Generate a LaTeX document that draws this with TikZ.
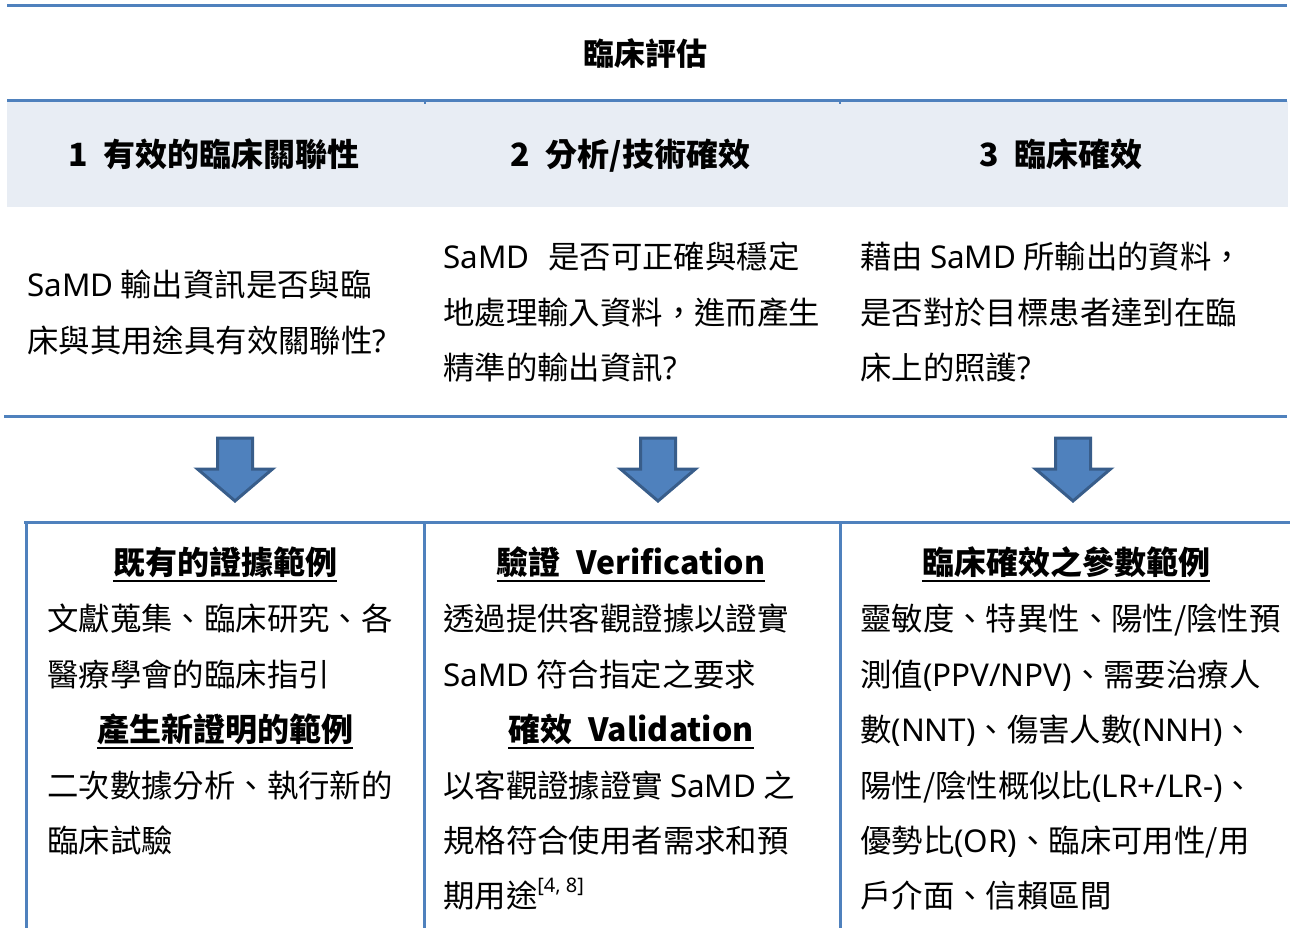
\documentclass[tikz,border=0pt]{standalone}
\usepackage{fontspec}
\setmainfont{Noto Sans CJK TC}
\newfontfamily\lat{Noto Sans}
\definecolor{lineblue}{HTML}{4F81BD}
\definecolor{bandfill}{HTML}{E8EDF4}
\definecolor{arrowborder}{HTML}{385D8A}
\newcommand{\lt}[1]{{\lat #1}}
\tikzset{
  rule/.style={draw=lineblue,line width=3pt},
  title/.style={inner sep=0pt,anchor=base,font=\fontsize{31}{36}\selectfont\bfseries},
  colhead/.style={inner sep=0pt,anchor=base west,font=\fontsize{32}{36}\selectfont\bfseries},
  bodytext/.style={inner sep=0pt,anchor=base west,font=\fontsize{31.4}{36}\selectfont},
  subhead/.style={inner sep=0pt,anchor=base,font=\fontsize{32}{36}\selectfont\bfseries},
  arrowstyle/.style={fill=lineblue,draw=arrowborder,line width=3pt,line join=miter},
  pics/downarrow/.style={code={
    \draw[arrowstyle] (-17.5,0) -- (17.5,0) -- (17.5,31) -- (37.5,31) -- (0,63) -- (-37.5,31) -- (-17.5,31) -- cycle;}}
}
\newcommand{\ul}[1]{\draw[line width=2pt] ([yshift=-7pt]#1.base west) -- ([yshift=-7pt]#1.base east);}
\begin{document}
\begin{tikzpicture}[x=1pt,y=-1pt]
\useasboundingbox (0,0) rectangle (1290,928);
% band
\fill[bandfill] (7,101) rectangle (1288,207);
% horizontal rules
\coordinate (t1) at (7,6);   \coordinate (t2) at (1287,6);
\coordinate (m1) at (7,101); \coordinate (m2) at (1287,101);
\coordinate (b1) at (4,416); \coordinate (b2) at (1287,416);
\coordinate (c1) at (24,522); \coordinate (c2) at (1290,522);
\draw[rule] (t1) -- (t2);
\draw[rule] (m1) -- (m2);
\draw[rule] (b1) -- (b2);
\draw[rule] (c1) -- (c2);
% small ticks
\draw[lineblue,line width=2pt] (425,101) -- (425,104);
\draw[lineblue,line width=2pt] (840,101) -- (840,104);
% vertical box lines
\coordinate (v1a) at (26,522);  \coordinate (v1b) at (26,930);
\coordinate (v2a) at (424,522); \coordinate (v2b) at (424,930);
\coordinate (v3a) at (840,522); \coordinate (v3b) at (840,930);
\draw[rule] (v1a) -- (v1b);
\draw[rule] (v2a) -- (v2b);
\draw[rule] (v3a) -- (v3b);
% title
\node[title] (ttl) at (645,66) {臨床評估};
% column headers
\node[colhead] (h1) at (68,167) {1\hspace{0.5em}有效的臨床關聯性};
\node[colhead] (h2) at (510,167) {2\hspace{0.5em}分析/技術確效};
\node[colhead] (h3) at (979,167) {3\hspace{0.5em}臨床確效};
% upper body text
\node[bodytext] (a1) at (27,296) {\lt{SaMD} 輸出資訊是否與臨};
\node[bodytext] (a2) at (27,352) {床與其用途具有效關聯性\lt{?}};
\node[bodytext] (b1t) at (443,268) {\lt{SaMD}\hspace{0.6em}是否可正確與穩定};
\node[bodytext] (b2t) at (443,324) {地處理輸入資料，進而產生};
\node[bodytext] (b3t) at (443,379) {精準的輸出資訊\lt{?}};
\node[bodytext] (c1t) at (860,268) {藉由 \lt{SaMD} 所輸出的資料，};
\node[bodytext] (c2t) at (860,324) {是否對於目標患者達到在臨};
\node[bodytext] (c3t) at (860,379) {床上的照護\lt{?}};
% arrows
\pic (arr1) at (235,438) {downarrow};
\pic (arr2) at (658,438) {downarrow};
\pic (arr3) at (1073,438) {downarrow};
% column 1 lower
\node[subhead] (s11) at (225,574) {既有的證據範例}; \ul{s11}
\node[bodytext] (d1) at (47,630) {文獻蒐集、臨床研究、各};
\node[bodytext] (d2) at (47,686) {醫療學會的臨床指引};
\node[subhead] (s12) at (225,741) {產生新證明的範例}; \ul{s12}
\node[bodytext] (d3) at (47,797) {二次數據分析、執行新的};
\node[bodytext] (d4) at (47,852) {臨床試驗};
% column 2 lower
\node[subhead] (s21) at (631,574) {驗證\hspace{0.5em}Verification}; \ul{s21}
\node[bodytext] (e1) at (443,630) {透過提供客觀證據以證實};
\node[bodytext] (e2) at (443,686) {\lt{SaMD} 符合指定之要求};
\node[subhead] (s22) at (631,741) {確效\hspace{0.5em}Validation}; \ul{s22}
\node[bodytext] (e3) at (443,797) {以客觀證據證實 \lt{SaMD} 之};
\node[bodytext] (e4) at (443,852) {規格符合使用者需求和預};
\node[bodytext] (e5) at (443,907) {期用途\raisebox{0.45em}{\fontsize{20}{24}\selectfont\lat [4, 8]}};
% column 3 lower
\node[subhead] (s31) at (1066,574) {臨床確效之參數範例}; \ul{s31}
\node[bodytext] (f1) at (860,630) {靈敏度、特異性、陽性/陰性預};
\node[bodytext] (f2) at (860,686) {測值\lt{(PPV/NPV)}、需要治療人};
\node[bodytext] (f3) at (860,741) {數\lt{(NNT)}、傷害人數\lt{(NNH)}、};
\node[bodytext] (f4) at (860,797) {陽性/陰性概似比\lt{(LR+/LR-)}、};
\node[bodytext] (f5) at (860,852) {優勢比\lt{(OR)}、臨床可用性/用};
\node[bodytext] (f6) at (860,907) {戶介面、信賴區間};
\end{tikzpicture}
\end{document}
